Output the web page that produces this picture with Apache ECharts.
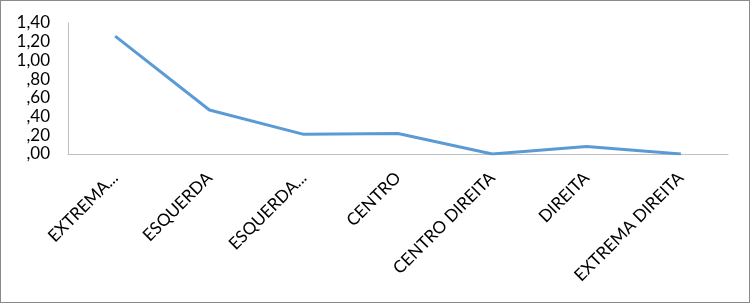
<!DOCTYPE html>
<html>
<head>
<meta charset="utf-8">
<script src="https://cdn.jsdelivr.net/npm/echarts@6/dist/echarts.min.js"></script>
<style>
  html, body { margin: 0; padding: 0; background: #fff; }
  #wrap { width: 750px; height: 303px; box-sizing: border-box; border: 1px solid #8a8a8a; background: #fff; }
  #chart { width: 748px; height: 301px; }
</style>
</head>
<body>
<div id="wrap"><div id="chart"></div></div>
<script>
const categories = ['EXTREMA...', 'ESQUERDA', 'ESQUERDA...', 'CENTRO', 'CENTRO DIREITA', 'DIREITA', 'EXTREMA DIREITA'];
const values = [1.26, 0.47, 0.21, 0.22, 0.00, 0.08, 0.00];
const yMin = 0, yMax = 1.4, yStep = 0.2;

function fmt(v) {
  let s = Number(v).toFixed(2).replace('.', ',');
  if (s.startsWith('0,')) s = s.slice(1);
  return s;
}

const chart = echarts.init(document.getElementById('chart'), null, { renderer: 'canvas' });
chart.setOption({
  animation: false,
  backgroundColor: '#fff',
  grid: { left: 67, right: 21, top: 22, bottom: 148, containLabel: false },
  xAxis: {
    type: 'category',
    data: categories,
    boundaryGap: true,
    axisLine: { show: true, lineStyle: { color: '#bfbfbf', width: 1 } },
    axisTick: { show: false },
    axisLabel: {
      rotate: 45, interval: 0, margin: 21,
      fontFamily: 'Lato', fontSize: 17, color: '#000',
      padding: [20, 0, 0, 0]
    },
    splitLine: { show: false }
  },
  yAxis: {
    type: 'value', min: yMin, max: yMax, interval: yStep,
    axisLine: { show: true, lineStyle: { color: '#bfbfbf', width: 1 } },
    axisTick: { show: false },
    splitLine: { show: false },
    axisLabel: {
      margin: 18, fontFamily: 'Lato', fontSize: 17, color: '#000',
      formatter: fmt
    }
  },
  series: [{
    type: 'line',
    data: values,
    symbol: 'none',
    lineStyle: { color: '#5B9BD5', width: 3 },
    itemStyle: { color: '#5B9BD5' }
  }]
});
</script>
</body>
</html>
